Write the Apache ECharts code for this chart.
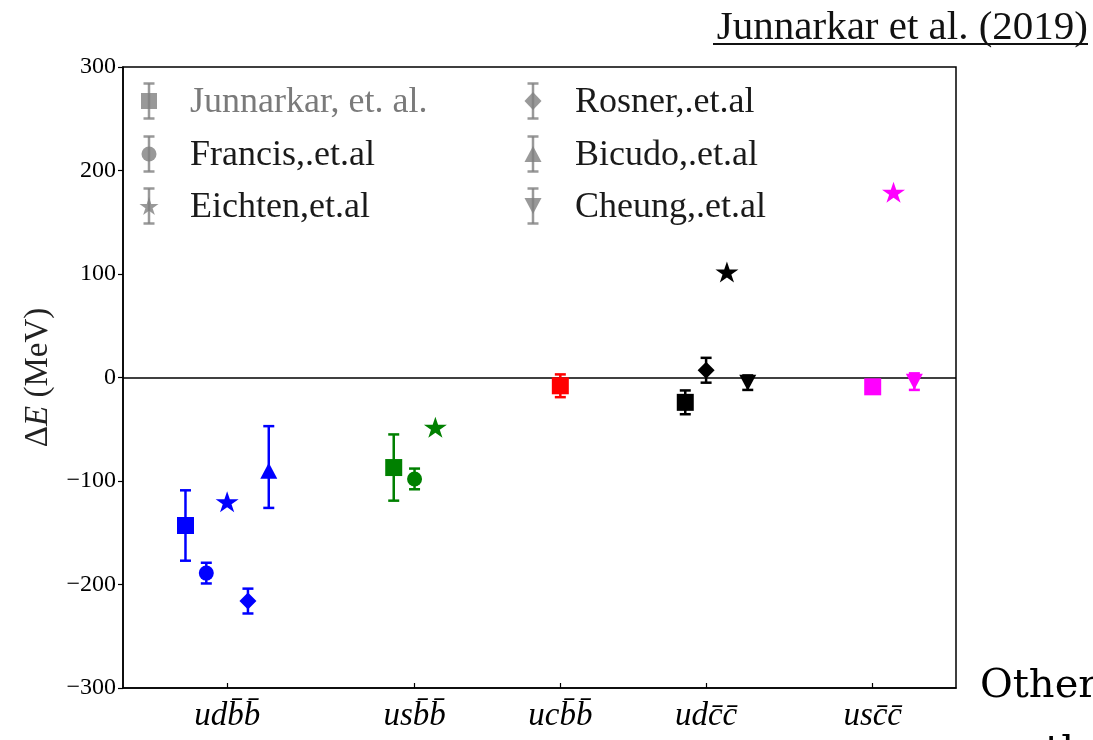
<!DOCTYPE html>
<html>
<head>
<meta charset="utf-8">
<script src="https://cdn.jsdelivr.net/npm/echarts@6/dist/echarts.min.js"></script>
<style>
  html, body { margin: 0; padding: 0; background: #fff; }
  #chart { width: 1093px; height: 740px; }
</style>
</head>
<body>
<div id="chart"></div>
<script>
// Tetraquark channels: x position of each channel tick and its label
const categoryPositions = [0, 0.9, 1.6, 2.3, 3.1];
const categoryLabels = ['udb\u0304b\u0304', 'usb\u0304b\u0304', 'ucb\u0304b\u0304', 'udc\u0304c\u0304', 'usc\u0304c\u0304'];
const groupColors = ['#0000ff', '#008000', '#ff0000', '#000000', '#ff00ff'];

// Binding energies ΔE (MeV) per reference: [channel, x, ΔE, err below, err above]
const junnarkar = [
  [0, -0.2, -143, 34, 34],
  [1, 0.8, -87, 32, 32],
  [2, 1.6, -8, 11, 11],
  [3, 2.2, -24, 11.5, 11.5],
  [4, 3.1, -9, 0, 0]
];
const francis = [
  [0, -0.1, -189, 10, 10],
  [1, 0.9, -98, 10, 10]
];
const eichten = [
  [0, 0.0, -120, 0, 0],
  [1, 1.0, -48, 0, 0],
  [3, 2.4, 102, 0, 0],
  [4, 3.2, 179, 0, 0]
];
const rosner = [
  [0, 0.1, -216, 12, 12],
  [3, 2.3, 7, 12, 12]
];
const bicudo = [
  [0, 0.2, -90, 36, 43]
];
const cheung = [
  [3, 2.5, -5, 7, 7],
  [4, 3.3, -4, 8, 8]
];

const legendNames = ['Junnarkar, et. al.', 'Francis,.et.al', 'Eichten,et.al', 'Rosner,.et.al', 'Bicudo,.et.al', 'Cheung,.et.al'];
const yTicks = { min: -300, max: 300, step: 100 };

const SERIF = '"Liberation Serif", "DejaVu Serif", serif';
const STAR = 'path://M0,-100 L22.45,-30.9 L95.1,-30.9 L36.33,11.8 L58.78,80.9 L0,38.2 L-58.78,80.9 L-36.33,11.8 L-95.1,-30.9 L-22.45,-30.9 Z';

const markerStyles = [
  { symbol: 'rect', symbolSize: 17 },
  { symbol: 'circle', symbolSize: 15 },
  { symbol: STAR, symbolSize: [23, 22], symbolKeepAspect: true },
  { symbol: 'diamond', symbolSize: [17, 17] },
  { symbol: 'triangle', symbolSize: [17, 16] },
  { symbol: 'triangle', symbolSize: [17, 16], symbolRotate: 180 }
];
const datasets = [junnarkar, francis, eichten, rosner, bicudo, cheung];

function renderErrorBar(params, api) {
  const x = api.value(0);
  const lo = api.coord([x, api.value(1)]);
  const hi = api.coord([x, api.value(2)]);
  const color = groupColors[api.value(3)];
  const half = 5.5;
  const style = { stroke: color, lineWidth: 2.5 };
  return {
    type: 'group',
    children: [
      { type: 'line', shape: { x1: lo[0], y1: lo[1], x2: hi[0], y2: hi[1] }, style },
      { type: 'line', shape: { x1: lo[0] - half, y1: lo[1], x2: lo[0] + half, y2: lo[1] }, style },
      { type: 'line', shape: { x1: hi[0] - half, y1: hi[1], x2: hi[0] + half, y2: hi[1] }, style }
    ]
  };
}

const series = [];
datasets.forEach((rows, i) => {
  const errRows = rows.filter(r => r[3] > 0 || r[4] > 0)
    .map(r => [r[1], r[2] - r[3], r[2] + r[4], r[0]]);
  if (errRows.length) {
    series.push({
      name: legendNames[i] + ' err',
      type: 'custom',
      renderItem: renderErrorBar,
      encode: { x: 0, y: [1, 2] },
      data: errRows,
      z: 3,
      silent: true
    });
  }
  const sc = Object.assign({
    name: legendNames[i],
    type: 'scatter',
    z: 4,
    data: rows.map(r => ({ value: [r[1], r[2]], itemStyle: { color: groupColors[r[0]], opacity: 1 } }))
  }, markerStyles[i]);
  if (i === 0) {
    sc.markLine = {
      silent: true,
      symbol: 'none',
      label: { show: false },
      lineStyle: { color: '#000', width: 1.5, type: 'solid' },
      data: [{ yAxis: 0 }],
      z: 2
    };
  }
  series.push(sc);
});

// Legend: grey markers with error bars, two columns of three
const legendGrey = '#808080';
const legendCols = [149, 533];
const legendTextX = [190, 575];
const legendRows = [101, 154, 206];
function legendMarker(kind, cx, cy) {
  const st = { fill: legendGrey, opacity: 0.8 };
  switch (kind) {
    case 0: return { type: 'rect', shape: { x: cx - 8, y: cy - 8, width: 16, height: 16 }, style: st };
    case 1: return { type: 'circle', shape: { cx, cy, r: 7.5 }, style: st };
    case 2: {
      const pts = [];
      for (let k = 0; k < 10; k++) {
        const a = -Math.PI / 2 + k * Math.PI / 5;
        const r = k % 2 === 0 ? 10 : 3.8;
        pts.push([cx + r * Math.cos(a), cy + 1 + r * Math.sin(a)]);
      }
      return { type: 'polygon', shape: { points: pts }, style: st };
    }
    case 3: return { type: 'polygon', shape: { points: [[cx, cy - 9], [cx + 8.5, cy], [cx, cy + 9], [cx - 8.5, cy]] }, style: st };
    case 4: return { type: 'polygon', shape: { points: [[cx, cy - 8], [cx + 8.5, cy + 8], [cx - 8.5, cy + 8]] }, style: st };
    default: return { type: 'polygon', shape: { points: [[cx, cy + 8], [cx + 8.5, cy - 8], [cx - 8.5, cy - 8]] }, style: st };
  }
}
const legendGraphics = [];
legendNames.forEach((name, i) => {
  const col = i < 3 ? 0 : 1;
  const cy = legendRows[i % 3];
  const cx = legendCols[col];
  const ls = { stroke: legendGrey, lineWidth: 2.5, opacity: 0.8 };
  legendGraphics.push(
    { type: 'line', shape: { x1: cx, y1: cy - 17.5, x2: cx, y2: cy + 17.5 }, style: ls },
    { type: 'line', shape: { x1: cx - 5.5, y1: cy - 17.5, x2: cx + 5.5, y2: cy - 17.5 }, style: ls },
    { type: 'line', shape: { x1: cx - 5.5, y1: cy + 17.5, x2: cx + 5.5, y2: cy + 17.5 }, style: ls },
    legendMarker(i, cx, cy),
    {
      type: 'text', x: legendTextX[col], y: cy + 2,
      style: {
        text: name, fill: i === 0 ? '#7a7a7a' : '#1a1a1a',
        font: '36px ' + SERIF, textVerticalAlign: 'middle', textAlign: 'left'
      }
    }
  );
});

const chart = echarts.init(document.getElementById('chart'), null, { renderer: 'canvas' });
chart.setOption({
  backgroundColor: '#fff',
  animation: false,
  grid: {
    left: 123, top: 67, width: 833, height: 621,
    show: true, borderColor: '#000', borderWidth: 1.5, backgroundColor: 'transparent'
  },
  xAxis: {
    type: 'value', min: -0.5, max: 3.5,
    axisLine: { show: true, onZero: false, lineStyle: { color: '#000', width: 1.5 } },
    axisTick: { show: true, inside: true, length: 5, customValues: categoryPositions, lineStyle: { color: '#000', width: 1.2 } },
    axisLabel: {
      customValues: categoryPositions,
      formatter: v => {
        const idx = categoryPositions.findIndex(p => Math.abs(p - v) < 1e-6);
        return idx >= 0 ? categoryLabels[idx] : '';
      },
      fontFamily: SERIF, fontStyle: 'italic', fontSize: 33, color: '#000', margin: 12
    },
    splitLine: { show: false }
  },
  yAxis: {
    type: 'value', min: yTicks.min, max: yTicks.max, interval: yTicks.step,
    axisLine: { show: true, onZero: false, lineStyle: { color: '#000', width: 1.5 } },
    axisTick: { show: true, inside: false, length: 5, lineStyle: { color: '#000', width: 1.2 } },
    axisLabel: {
      formatter: v => (v < 0 ? '\u2212' + Math.abs(v) : String(v)),
      fontFamily: SERIF, fontSize: 24, color: '#000', margin: 7
    },
    splitLine: { show: false },
    name: '{n|\u0394}{it|E}{n| (MeV)}',
    nameLocation: 'middle',
    nameRotate: 90,
    nameGap: 68,
    nameTextStyle: {
      rich: {
        n: { fontFamily: SERIF, fontSize: 33, color: '#222' },
        it: { fontFamily: SERIF, fontSize: 33, fontStyle: 'italic', color: '#222' }
      }
    }
  },
  series,
  graphic: [
    ...legendGraphics,
    {
      type: 'text', right: 5, top: 8,
      style: { text: 'Junnarkar et al. (2019)', font: '41px ' + SERIF, fill: '#111' }
    },
    { type: 'line', shape: { x1: 713, y1: 44, x2: 1088, y2: 44 }, style: { stroke: '#111', lineWidth: 2 } },
    {
      type: 'text', x: 980, y: 687,
      style: { text: 'Other', font: '40px "DejaVu Serif", serif', fill: '#000', textVerticalAlign: 'middle' }
    },
    {
      type: 'text', x: 1045, y: 753,
      style: { text: 'the', font: '40px "DejaVu Serif", serif', fill: '#000', textVerticalAlign: 'middle' }
    }
  ]
});
</script>
</body>
</html>
